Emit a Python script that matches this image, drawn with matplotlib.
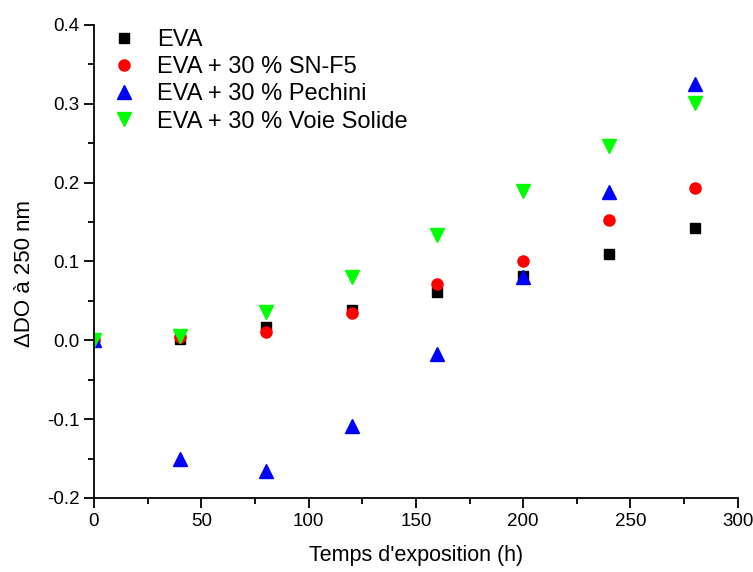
import matplotlib.pyplot as plt
from matplotlib.ticker import MultipleLocator

plt.rcParams['font.family'] = ['Liberation Sans', 'DejaVu Sans']

# Exposure time (h)
temps = [0, 40, 80, 120, 160, 200, 240, 280]

# Delta optical density at 250 nm
eva = [0.0, 0.002, 0.017, 0.038, 0.061, 0.082, 0.109, 0.143]
eva_snf5 = [0.0, 0.004, 0.011, 0.034, 0.071, 0.100, 0.152, 0.193]
eva_pechini = [0.0, -0.150, -0.166, -0.109, -0.017, 0.080, 0.188, 0.325]
eva_solide = [0.0, 0.005, 0.036, 0.080, 0.133, 0.189, 0.247, 0.301]

labels = ["EVA", "EVA + 30 % SN-F5", "EVA + 30 % Pechini", "EVA + 30 % Voie Solide"]

fig = plt.figure(figsize=(7.53, 5.72), dpi=100)
ax = fig.add_axes([0.1248, 0.1294, 0.855, 0.827])

ax.plot(temps, eva, 's', color='black', markersize=7, label=labels[0])
ax.plot(temps, eva_snf5, 'o', color='red', markersize=8, label=labels[1])
ax.plot(temps, eva_pechini, '^', color='blue', markersize=10, label=labels[2])
ax.plot(temps, eva_solide, 'v', color='#00ff00', markersize=10, label=labels[3])

ax.set_xlim(0, 300)
ax.set_ylim(-0.2, 0.4)
ax.xaxis.set_major_locator(MultipleLocator(50))
ax.xaxis.set_minor_locator(MultipleLocator(25))
ax.yaxis.set_major_locator(MultipleLocator(0.1))
ax.yaxis.set_minor_locator(MultipleLocator(0.05))
ax.yaxis.set_major_formatter(plt.FuncFormatter(lambda v, p: "0.0" if abs(v) < 1e-9 else f"{v:.1f}"))

ax.spines['top'].set_visible(False)
ax.spines['right'].set_visible(False)
for s in ['left', 'bottom']:
    ax.spines[s].set_linewidth(1.3)
ax.tick_params(which='major', direction='out', length=7, width=1.3, labelsize=13.5)
ax.tick_params(which='minor', direction='out', length=4, width=1.3)

ax.set_xlabel("Temps d'exposition (h)", fontsize=15.5, labelpad=11)
ax.set_ylabel("ΔDO à 250 nm", fontsize=16)
ax.yaxis.set_label_coords(-0.091, 0.4736)

ax.legend(loc='upper left', bbox_to_anchor=(0.028, 0.9915), frameon=False,
          fontsize=17, handlelength=1.0, handletextpad=0.9, labelspacing=0.22,
          borderpad=0, borderaxespad=0)

plt.savefig("out.png")
